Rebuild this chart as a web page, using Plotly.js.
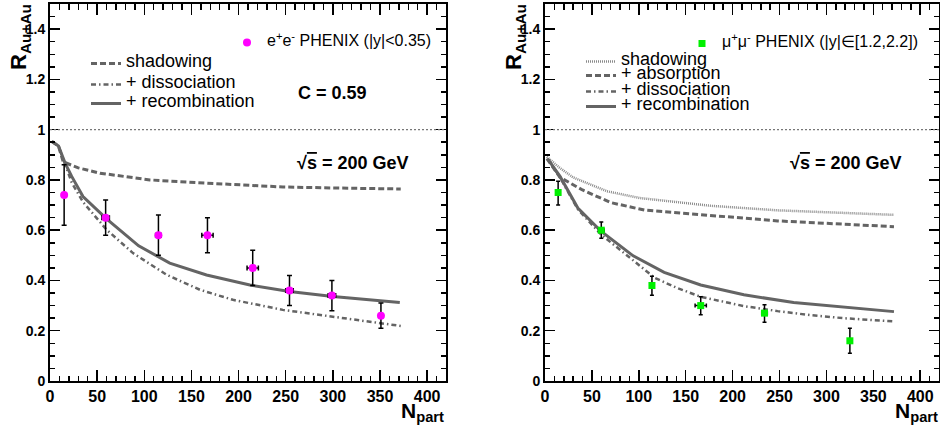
<!DOCTYPE html>
<html>
<head>
<meta charset="utf-8">
<script src="https://cdn.plot.ly/plotly-3.0.1.min.js"></script>
<style>html,body{margin:0;padding:0;background:#fff;}#chart{width:940px;height:428px;}</style>
</head>
<body>
<div id="chart"></div>
<script>
// ---------- DATA ----------
// Left panel: e+e- PHENIX (|y|<0.35)
const nPartL    = [15, 59, 115, 167, 215, 254, 299, 351];
const rAAL      = [0.74, 0.65, 0.58, 0.58, 0.45, 0.36, 0.34, 0.26];
const rAALerr   = [0.12, 0.07, 0.08, 0.07, 0.07, 0.06, 0.06, 0.05];
const nPartLerr = [0, 4, 3, 6, 6, 4, 4, 0];

const shadowL_N = [2, 9, 14, 30, 53, 106, 177, 247, 300, 372];
const shadowL_R = [0.953, 0.935, 0.872, 0.848, 0.827, 0.800, 0.785, 0.772, 0.768, 0.764];
const dissL_N   = [2, 9, 16, 23, 35, 60, 88, 124, 159, 194, 247, 300, 372];
const dissL_R   = [0.953, 0.935, 0.862, 0.790, 0.712, 0.602, 0.509, 0.422, 0.363, 0.323, 0.283, 0.256, 0.219];
const recoL_N   = [2, 9, 16, 23, 35, 60, 94, 127, 166, 212, 254, 300, 371];
const recoL_R   = [0.953, 0.935, 0.867, 0.814, 0.734, 0.645, 0.538, 0.469, 0.422, 0.382, 0.356, 0.336, 0.312];

// Right panel: mu+mu- PHENIX (|y| in [1.2,2.2])
const nPartR     = [14, 60, 114, 166, 234, 325];
const rAAR       = [0.75, 0.60, 0.38, 0.30, 0.27, 0.16];
const rAARerrUp  = [0.045, 0.033, 0.037, 0.035, 0.033, 0.05];
const rAARerrDn  = [0.05, 0.032, 0.039, 0.036, 0.036, 0.05];
const nPartRerr  = [0, 3, 2, 6, 3, 0];

const shadowR_N = [2, 15, 30, 66, 101, 177, 248, 372];
const shadowR_R = [0.892, 0.85, 0.81, 0.755, 0.728, 0.697, 0.679, 0.661];
const absR_N    = [2, 16, 40, 70, 106, 177, 248, 372];
const absR_R    = [0.885, 0.81, 0.76, 0.71, 0.68, 0.657, 0.637, 0.614];
const dissR_N   = [3, 16, 35, 60, 94, 117, 141, 166, 212, 248, 283, 318, 372];
const dissR_R   = [0.883, 0.81, 0.683, 0.582, 0.48, 0.41, 0.37, 0.335, 0.298, 0.278, 0.262, 0.25, 0.237];
const recoR_N   = [3, 16, 35, 60, 94, 127, 166, 212, 265, 318, 372];
const recoR_R   = [0.883, 0.814, 0.688, 0.595, 0.498, 0.432, 0.382, 0.343, 0.312, 0.294, 0.276];

const unityLevel = 1;
const xTickStep = 50, xMinorStep = 10, yTickStep = 0.2, yMinorStep = 0.05;
const xRange = [0, 420], yRange = [0, 1.5];

// ---------- STYLE ----------
const FONT = 'Liberation Sans, Arial, Helvetica, sans-serif';
const GRAY = '#646464';
const big = t => '<span style="font-size:18px">' + t + '</span>';
const mid = t => '<span style="font-size:16px">' + t + '</span>';

function curve(x, y, name, xa, ya, legend, dash, width, color) {
  return {x: x, y: y, type: 'scatter', mode: 'lines', name: name, xaxis: xa, yaxis: ya,
          legend: legend, line: {color: color || GRAY, width: width, dash: dash},
          hoverinfo: 'skip'};
}
function tickHost(xa, ya) {
  return {x: [], y: [], type: 'scatter', mode: 'markers', xaxis: xa, yaxis: ya, showlegend: false, hoverinfo: 'skip'};
}

const traces = [
  curve(shadowL_N, shadowL_R, big('shadowing'), 'x', 'y', 'legend', '6px,3px', 3),
  curve(dissL_N, dissL_R, big('+ dissociation'), 'x', 'y', 'legend5', '5px,3px,1.5px,3px', 2.5),
  curve(recoL_N, recoL_R, big('+ recombination'), 'x', 'y', 'legend6', 'solid', 3),
  {x: nPartL, y: rAAL, type: 'scatter', mode: 'markers', xaxis: 'x', yaxis: 'y', legend: 'legend2',
   name: mid('e<sup>+</sup>e<sup>-</sup> PHENIX (|y|&lt;0.35)'),
   marker: {symbol: 'circle', size: 8, color: '#ff00ff'},
   error_y: {type: 'data', array: rAALerr, color: '#000', thickness: 1.5, width: 2.5},
   error_x: {type: 'data', array: nPartLerr, color: '#000', thickness: 1.5, width: 2.5}},

  curve(shadowR_N, shadowR_R, big('shadowing'), 'x2', 'y2', 'legend3', '1px,1px', 2.5, '#8a8a8a'),
  curve(absR_N, absR_R, big('+ absorption'), 'x2', 'y2', 'legend7', '6px,3px', 3),
  curve(dissR_N, dissR_R, big('+ dissociation'), 'x2', 'y2', 'legend8', '5px,3px,1.5px,3px', 2.5),
  curve(recoR_N, recoR_R, big('+ recombination'), 'x2', 'y2', 'legend9', 'solid', 3),
  {x: nPartR, y: rAAR, type: 'scatter', mode: 'markers', xaxis: 'x2', yaxis: 'y2', legend: 'legend4',
   name: mid('μ<sup>+</sup>μ<sup>-</sup> PHENIX (|y|∈[1.2,2.2])'),
   marker: {symbol: 'square', size: 7, color: '#00f000'},
   error_y: {type: 'data', symmetric: false, array: rAARerrUp, arrayminus: rAARerrDn, color: '#000', thickness: 1.5, width: 2},
   error_x: {type: 'data', array: nPartRerr, color: '#000', thickness: 1.5, width: 2}},

  tickHost('x3', 'y3'),
  tickHost('x4', 'y4')
];

function xAxis(domain, anchor, extra) {
  return Object.assign({domain: domain, anchor: anchor, range: xRange, tick0: 0, dtick: xTickStep,
          ticks: 'inside', ticklen: 11, tickwidth: 1.5, tickcolor: '#000',
          showline: true, linewidth: 2, linecolor: '#000', mirror: true,
          showgrid: false, zeroline: false,
          minor: {dtick: xMinorStep, ticks: 'inside', ticklen: 5.5, tickwidth: 1.5, tickcolor: '#000', showgrid: false},
          tickfont: {family: FONT, size: 16, color: '#000', weight: 'bold'}, fixedrange: true}, extra || {});
}
function yAxis(domain, anchor, extra) {
  return Object.assign({domain: domain, anchor: anchor, range: yRange, tick0: 0, dtick: yTickStep,
          ticks: 'inside', ticklen: 10, tickwidth: 1.5, tickcolor: '#000',
          showline: true, linewidth: 2, linecolor: '#000', mirror: true,
          showgrid: false, zeroline: false,
          minor: {dtick: yMinorStep, ticks: 'inside', ticklen: 5, tickwidth: 1.5, tickcolor: '#000', showgrid: false},
          tickfont: {family: FONT, size: 14, color: '#000', weight: 'bold'}, fixedrange: true}, extra || {});
}
const mirrorOnly = {showticklabels: false, showline: false};

const W = 940, H = 428;
const px = v => v / W, py = v => 1 - v / H;
const yDom = [47 / H, 424 / H];
const xDomL = [50 / W, 446 / W], xDomR = [545 / W, 939 / W];

function legendAt(xPix, yPix) {
  return {x: px(xPix), y: py(yPix), xanchor: 'left', yanchor: 'top', bgcolor: 'rgba(0,0,0,0)',
          borderwidth: 0, font: {family: FONT, size: 10, color: '#000'}, traceorder: 'normal',
          itemwidth: 30, tracegroupgap: 0};
}

const annBase = {showarrow: false, xref: 'paper', yref: 'paper', font: {family: FONT, color: '#000', weight: 'bold'}};
function ann(o) { return Object.assign({}, annBase, o, {font: Object.assign({}, annBase.font, o.font || {})}); }
const sqrtS = '√<span style="text-decoration:overline">s</span> = 200 GeV';

const layout = {
  width: W, height: H, margin: {l: 0, r: 0, t: 0, b: 0},
  paper_bgcolor: '#fff', plot_bgcolor: '#fff',
  xaxis: xAxis(xDomL, 'y'),
  yaxis: yAxis(yDom, 'x'),
  xaxis2: xAxis(xDomR, 'y2'),
  yaxis2: yAxis(yDom, 'x2'),
  xaxis3: xAxis(xDomL, 'y3', Object.assign({overlaying: 'x', side: 'top'}, mirrorOnly)),
  yaxis3: yAxis(yDom, 'x3', Object.assign({overlaying: 'y', side: 'right'}, mirrorOnly)),
  xaxis4: xAxis(xDomR, 'y4', Object.assign({overlaying: 'x2', side: 'top'}, mirrorOnly)),
  yaxis4: yAxis(yDom, 'x4', Object.assign({overlaying: 'y2', side: 'right'}, mirrorOnly)),
  showlegend: true,
  legend:  legendAt(86, 49),
  legend5: legendAt(86, 70),
  legend6: legendAt(86, 89),
  legend2: legendAt(227, 28),
  legend3: legendAt(581, 47),
  legend7: legendAt(581, 61),
  legend8: legendAt(581, 77),
  legend9: legendAt(581, 92),
  legend4: legendAt(682, 29),
  shapes: [
    {type: 'line', xref: 'x domain', yref: 'y', x0: 0, x1: 1, y0: unityLevel, y1: unityLevel,
     line: {color: '#777', width: 1.2, dash: '2px,2px'}},
    {type: 'line', xref: 'x2 domain', yref: 'y2', x0: 0, x1: 1, y0: unityLevel, y1: unityLevel,
     line: {color: '#777', width: 1.2, dash: '2px,2px'}}
  ],
  annotations: [
    ann({text: 'C = 0.59', x: px(296), y: py(93), xanchor: 'left', yanchor: 'middle', font: {size: 18}}),
    ann({text: sqrtS, x: px(295), y: py(163), xanchor: 'left', yanchor: 'middle', font: {size: 18}}),
    ann({text: sqrtS, x: px(788), y: py(163), xanchor: 'left', yanchor: 'middle', font: {size: 18}}),
    ann({text: 'R<sub>Au+Au</sub>', x: px(20), y: py(2), xanchor: 'center', yanchor: 'top', textangle: -90, font: {size: 22}}),
    ann({text: 'R<sub>Au+Au</sub>', x: px(515), y: py(2), xanchor: 'center', yanchor: 'top', textangle: -90, font: {size: 22}}),
    ann({text: 'N<sub>part</sub>', x: px(446), y: py(397), xanchor: 'right', yanchor: 'top', font: {size: 21}}),
    ann({text: 'N<sub>part</sub>', x: px(940), y: py(397), xanchor: 'right', yanchor: 'top', font: {size: 21}})
  ]
};

Plotly.newPlot('chart', traces, layout, {staticPlot: true, displayModeBar: false});
</script>
</body>
</html>
